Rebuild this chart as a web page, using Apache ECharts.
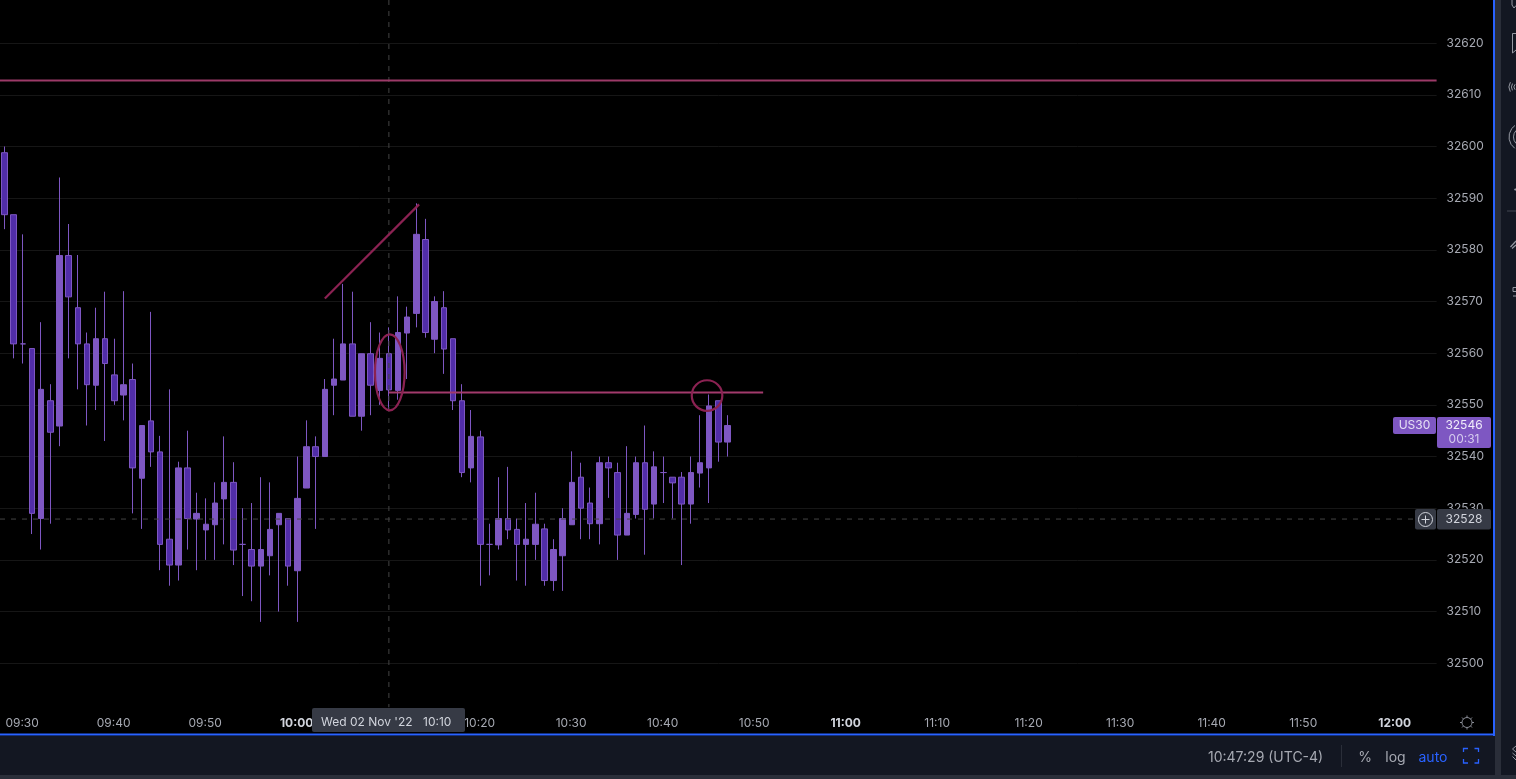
<!DOCTYPE html>
<html>
<head>
<meta charset="utf-8">
<style>html,body{margin:0;padding:0;background:#000;overflow:hidden}#c{width:1516px;height:779px}</style>
<script src="https://cdn.jsdelivr.net/npm/echarts@6/dist/echarts.min.js"></script>
</head>
<body>
<div id="c"></div>
<script>
const categories = [
"09:28","09:29","09:30","09:31","09:32","09:33","09:34","09:35","09:36","09:37","09:38","09:39","09:40","09:41","09:42","09:43","09:44","09:45","09:46","09:47","09:48","09:49","09:50","09:51","09:52","09:53","09:54","09:55","09:56","09:57","09:58","09:59",
"10:00","10:01","10:02","10:03","10:04","10:05","10:06","10:07","10:08","10:09","10:10","10:11","10:12","10:13","10:14","10:15","10:16","10:17","10:18","10:19","10:20","10:21","10:22","10:23","10:24","10:25","10:26","10:27","10:28","10:29","10:30","10:31","10:32","10:33","10:34","10:35","10:36","10:37","10:38","10:39","10:40","10:41","10:42","10:43","10:44","10:45","10:46","10:47","10:48","10:49","10:50","10:51","10:52","10:53","10:54","10:55","10:56","10:57","10:58","10:59",
"11:00","11:01","11:02","11:03","11:04","11:05","11:06","11:07","11:08","11:09","11:10","11:11","11:12","11:13","11:14","11:15","11:16","11:17","11:18","11:19","11:20","11:21","11:22","11:23","11:24","11:25","11:26","11:27","11:28","11:29","11:30","11:31","11:32","11:33","11:34","11:35","11:36","11:37","11:38","11:39","11:40","11:41","11:42","11:43","11:44","11:45","11:46","11:47","11:48","11:49","11:50","11:51","11:52","11:53","11:54","11:55","11:56","11:57","11:58","11:59",
"12:00","12:01","12:02","12:03","12:04"];
const timeTicks = ["09:30","09:40","09:50","10:00","10:10","10:20","10:30","10:40","10:50","11:00","11:10","11:20","11:30","11:40","11:50","12:00"];
const boldTicks = ["10:00","11:00","12:00"];
const priceTicks = [32500,32510,32520,32530,32540,32550,32560,32570,32580,32590,32600,32610,32620];

const opens  = [32598.8,32586.8,32561.8,32560.9,32528,32550.8,32545.9,32578.9,32568.8,32561.8,32553.8,32562.8,32555.8,32551.9,32554.9,32535.8,32546.9,32540.9,32524,32519,32537.8,32527.9,32525.8,32526.8,32531.8,32535,32523,32522,32518.8,32520.8,32526.8,32528,
32517.9,32533.9,32541.9,32540,32553.8,32554.8,32561.8,32547.8,32559.9,32552.8,32559.9,32552.8,32563.9,32567.7,32582,32562.7,32568.8,32562.8,32550.8,32537.8,32543.8,32523,32522.9,32528,32525.9,32523,32523,32526,32516,32520.8,32526.8,32536,32531,32527,32538.8,32536.9,32524.8,32528.8,32538.8,32530.8,32536.9,32536,32536,32530.8,32536.8,32537.8,32550.8,32542.8];
const closes = [32586.8,32561.8,32561.8,32529,32553,32544.7,32578.9,32570.9,32561.8,32553.9,32562.8,32558,32550.8,32553.9,32537.8,32546,32540.9,32523,32519,32537.8,32528,32529,32526.9,32531,32535,32521.9,32523,32518.8,32522,32525.9,32529,32518.8,
32531.9,32541.9,32540,32553,32555,32561.8,32547.8,32559.9,32553.8,32559,32552.9,32564,32567,32583,32564,32570,32560.8,32550.8,32536.9,32543.9,32523,32523,32528,32525.8,32523,32524,32526.9,32516,32522,32528,32535,32530,32527,32538.8,32537.8,32524.8,32529,32538.8,32529.8,32538,32536.9,32534.9,32530.8,32536.9,32538.8,32549.8,32542.8,32546];
const lows   = [32584,32559,32558,32525,32522,32527,32542,32559,32553,32546,32549,32543,32550,32547,32529,32526,32538,32518,32515,32516,32522,32518,32520,32520,32523,32519,32513,32512,32508,32517,32510,32515,
32508,32533.9,32526,32540,32548,32554.8,32547.8,32545,32548,32550,32549,32551,32555,32565,32563,32560,32556,32549,32536,32535,32515,32517,32522,32524,32516,32515,32520,32515,32514,32514,32526.8,32524,32524,32523,32532,32520,32524.8,32528,32521,32528,32531,32528,32519,32527,32534,32531,32539,32540];
const highs  = [32600,32586.8,32583,32560.9,32566,32554,32594,32585,32579,32564,32568.8,32571.9,32562.8,32572,32558,32546,32568,32544,32553,32539,32545,32533,32531.9,32535,32543.9,32538.9,32530,32531,32536,32535,32529,32528,
32540,32547,32543.9,32555,32562.8,32573.4,32571.9,32559.9,32566,32564,32565,32571,32569,32589,32586,32571,32572,32562.8,32554,32549,32545,32527,32536,32538,32528,32531,32533,32527,32524,32530,32541,32538.8,32534,32540,32540,32538.8,32542,32540,32546,32541,32540,32536,32537,32540,32548,32552,32550.8,32548];

const upperLevel = [-0.5, 32612.75, 156.5, 32612.75];
const lowerLevel = [42, 32552.4, 82.9, 32552.4];
const diagonal   = [35, 32570.6, 45.3, 32588.8];
const ellipseMark = [42.1, 32556.3, 1.62, 7.35];
const circleMark  = [76.77, 32551.8, 1.67, 2.96];
const crosshairPrice = 32528;
const crosshairLevel = 32527.9;
const lastPrice = "32546";
const countdown = "00:31";

const FONT = 'Inter';
const candleData = opens.map((o,i)=>[o,closes[i],lows[i],highs[i]]);

// the category scale rounds an index, so sub-bar positions go through the band width
function pt(api,idx,val){
  const c=api.coord([0,val]), bw=api.size([1,0])[0];
  return [c[0]+idx*bw,c[1]];
}
function segment(seg, color, width, dash){
  return {type:'custom',coordinateSystem:'cartesian2d',silent:true,animation:false,clip:false,z:5,
    data:[[0,0]],
    renderItem:function(p,api){
      const a=pt(api,seg[0],seg[1]), b=pt(api,seg[2],seg[3]);
      return {type:'line',shape:{x1:a[0],y1:a[1],x2:b[0],y2:b[1]},
        style:{stroke:color,lineWidth:width,lineDash:dash||null,fill:null}};
    }};
}
function ringMark(m,color,width){
  return {type:'custom',coordinateSystem:'cartesian2d',silent:true,animation:false,clip:false,z:6,
    data:[[0,0]],
    renderItem:function(p,api){
      const c=pt(api,m[0],m[1]), bw=api.size([1,0])[0], uy=api.size([0,1])[1];
      return {type:'ellipse',shape:{cx:c[0],cy:c[1],rx:m[2]*bw,ry:m[3]*uy},
        style:{stroke:color,lineWidth:width,fill:null}};
    }};
}
function rect(x,y,w,h,fill,r){return {type:'rect',z:100,silent:true,shape:{x,y,width:w,height:h,r:r||0},style:{fill}};}
function label(x,y,text,fill,size,align,weight){return {type:'text',z:101,silent:true,x,y,style:{text,fill,font:(weight||400)+' '+(size||12)+'px '+FONT,textAlign:align||'center',textVerticalAlign:'middle'}};}
function stroke(points,color,w){return {type:'polyline',z:101,silent:true,shape:{points},style:{stroke:color,lineWidth:w||1,fill:null}};}
function arc(cx,cy,r,a0,a1,color,w){return {type:'arc',z:101,silent:true,shape:{cx,cy,r,startAngle:a0,endAngle:a1},style:{stroke:color,lineWidth:w||1,fill:null}};}

const BLUE='#2962ff', PANEL='#131722', GUTTER='#2a2e39', ICON='#9598a1', TXT='#a6a9b2';
const sunTicks=[[1467,716,1467,718],[1467,728,1467,730],[1460,723,1462,723],[1472,723,1474,723],[1462,718,1463.5,719.5],[1470.5,726.5,1472,728],[1472,718,1470.5,719.5],[1463.5,726.5,1462,728]];

const chrome=[
  rect(1393,417,43,17,'#7e57c2',2),
  label(1414.5,425.5,'US30','#e6e0f5',12),
  rect(1437,417,54,31,'#7e57c2',2),
  label(1464,425.5,lastPrice,'#f0ecfa',12),
  label(1464,439.5,countdown,'#d5cbee',12),
  rect(1415,509,21,20.5,'#363a45',2),
  rect(1437,509,54,20.5,'#363a45',2),
  label(1464,519.5,String(crosshairPrice),'#d1d4dc',12),
  {type:'circle',z:101,silent:true,shape:{cx:1425.5,cy:519.5,r:7},style:{stroke:'#d1d4dc',lineWidth:1,fill:null}},
  stroke([[1425.5,515.5],[1425.5,523.5]],'#d1d4dc'),
  stroke([[1421.5,519.5],[1429.5,519.5]],'#d1d4dc'),
  rect(312,708,153,24,'#363a45',2),
  label(321,722,"Wed 02 Nov '22",'#d1d4dc',12,'left'),
  label(423,722,'10:10','#d1d4dc',12,'left'),
  {type:'circle',z:101,silent:true,shape:{cx:1467,cy:722.5,r:5},style:{stroke:'#8a8d96',lineWidth:1,fill:null}},
  ...sunTicks.map(t=>stroke([[t[0],t[1]-0.5],[t[2],t[3]-0.5]],'#8a8d96')),
  rect(1495,0,6,779,GUTTER),
  rect(1501,0,15,779,PANEL),
  rect(0,736,1495,39,PANEL),
  rect(0,775,1516,4,GUTTER),
  rect(1493,0,2,736,BLUE),
  rect(0,733.5,1495,2,BLUE),
  rect(1341,745,1,22,'#2a2e39'),
  label(1208,757.5,'10:47:29 (UTC-4)',TXT,14,'left'),
  label(1365,757.5,'%',TXT,14),
  label(1395.5,757.5,'log',TXT,14),
  label(1433,757.5,'auto',BLUE,14),
  stroke([[1463.5,752],[1463.5,748.5],[1468,748.5]],BLUE,1.3),
  stroke([[1474.5,748.5],[1478.5,748.5],[1478.5,752]],BLUE,1.3),
  stroke([[1463.5,759],[1463.5,763],[1468,763]],BLUE,1.3),
  stroke([[1474.5,763],[1478.5,763],[1478.5,759]],BLUE,1.3),
  stroke([[1512,0],[1512,5],[1514,8],[1516,5.5]],ICON),
  stroke([[1516,33.5],[1512.5,33.5],[1512.5,53],[1516,50]],ICON),
  arc(1518,87,9,2.6,3.7,ICON), arc(1518,87,6.5,2.6,3.7,ICON), arc(1518,87,4,2.4,3.9,ICON),
  arc(1523,137,14,2.2,4.1,ICON), arc(1523,137,9.5,2.4,3.9,ICON),
  stroke([[1514.5,190],[1516,189]],ICON,2),
  stroke([[1507,211],[1516,211]],'#434651'),
  stroke([[1510.5,247],[1516,241]],ICON,1.2), stroke([[1512,248.5],[1516,245]],ICON,1.2),
  stroke([[1516,287.5],[1513,287.5],[1513,291.5],[1516,291.5]],ICON), stroke([[1513,296],[1516,296]],ICON),
  stroke([[1516,746],[1512.5,749],[1516,752]],ICON), stroke([[1512.5,753],[1516,756]],ICON), stroke([[1512.5,756.5],[1516,760]],ICON)
];

const chart=echarts.init(document.getElementById('c'),null,{renderer:'canvas'});
chart.setOption({
  animation:false,
  backgroundColor:'#000000',
  grid:{left:0,top:0,width:1436.6,height:714.9,containLabel:false},
  tooltip:{show:false},
  xAxis:{type:'category',data:categories,boundaryGap:true,
    axisLine:{show:false},axisTick:{show:false},splitLine:{show:false},
    axisLabel:{show:true,margin:2,padding:[0,1.5,0,0],color:TXT,fontFamily:FONT,fontSize:12,hideOverlap:false,
      interval:function(i,v){return timeTicks.indexOf(v)>=0;},
      formatter:function(v){return boldTicks.indexOf(v)>=0?'{b|'+v+'}':v;},
      rich:{b:{color:'#d1d4dc',fontFamily:FONT,fontSize:12,fontWeight:700}}}},
  yAxis:{type:'value',position:'right',min:32490,max:32628.35,interval:10,
    axisLine:{show:false},axisTick:{show:false},
    splitLine:{show:true,showMinLine:false,showMaxLine:false,lineStyle:{color:'#161616',width:1}},
    axisLabel:{show:true,margin:10,color:TXT,fontFamily:FONT,fontSize:12,showMinLabel:false,showMaxLabel:false,
      formatter:function(v){return priceTicks.indexOf(v)>=0?String(v):'';}}},
  series:[
    segment([42,32628.35,42,32491.5],'#444444',1,[5,6]),
    segment([-0.5,crosshairLevel,154,crosshairLevel],'#444444',1,[5,6]),
    {type:'candlestick',data:candleData,barWidth:6,z:3,silent:true,
      itemStyle:{color:'#7e57c2',color0:'#512da8',borderColor:'#7e57c2',borderColor0:'#7e57c2',borderColorDoji:'#7e57c2',borderWidth:1}},
    segment(upperLevel,'#9c3a68',2),
    segment(lowerLevel,'#a23a6c',2),
    segment(diagonal,'#8b2252',2.2),
    ringMark(ellipseMark,'#8b2252',2.2),
    ringMark(circleMark,'#8b2252',2.2)
  ],
  graphic:{elements:chrome}
});
</script>
</body>
</html>
